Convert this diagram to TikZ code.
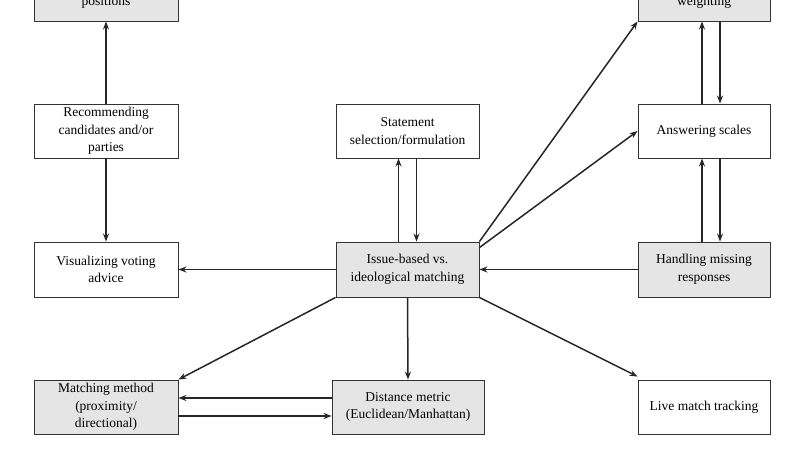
\documentclass[tikz,border=0pt]{standalone}
\usepackage{fontspec}
\setmainfont{Liberation Serif}
\usetikzlibrary{arrows.meta}
\begin{document}
\begin{tikzpicture}[x=1pt,y=-1pt,
  box/.style={draw=black!80,line width=0.9pt,align=center,inner sep=0pt,font=\fontsize{13.5}{17.5}\selectfont},
  g/.style={box,fill=black!10},
  w/.style={box,fill=white},
  arr/.style={-{Stealth[length=8pt,width=6pt]},line width=1.5pt,black!85}]
\useasboundingbox (0,0) rectangle (808,455);
\begin{scope}
\clip (0,0) rectangle (808,455);
\node[g,minimum width=144pt,minimum height=54pt] (pos) at (106,-6) {Party/candidate\\positions};
\node[g,minimum width=132pt,minimum height=54pt] (wgt) at (704,-6) {Statement\\weighting};
\end{scope}
\node[w,minimum width=144pt,minimum height=54pt] (rec) at (106,131) {Recommending\\candidates and/or\\parties};
\node[w,minimum width=144pt,minimum height=55pt] (vis) at (106,269.5) {Visualizing voting\\advice};
\node[g,minimum width=144pt,minimum height=54pt] (mm) at (106,407) {Matching method\\(proximity/\\directional)};
\node[w,minimum width=143pt,minimum height=54pt] (st) at (407.5,131) {Statement\\selection/formulation};
\node[g,minimum width=143pt,minimum height=55pt] (iss) at (407.5,269.5) {Issue-based vs.\\ideological matching};
\node[g,minimum width=152pt,minimum height=54pt] (dm) at (408,407) {Distance metric\\(Euclidean/Manhattan)};
\node[w,minimum width=132pt,minimum height=54pt] (ans) at (704,131) {Answering scales};
\node[g,minimum width=132pt,minimum height=55pt] (hm) at (704,269.5) {Handling missing\\responses};
\node[w,minimum width=132pt,minimum height=54pt] (live) at (704,407) {Live match tracking};

\draw[arr] (rec.north) -- (pos.south);
\draw[arr] (rec.south) -- (vis.north);
\draw[arr] (iss.west) -- (vis.east);
\draw[arr] ([xshift=-9pt]iss.north) -- ([xshift=-9pt]st.south);
\draw[arr] ([xshift=9pt]st.south) -- ([xshift=9pt]iss.north);
\draw[arr] (iss.south) -- (dm.north);
\draw[arr] (iss.south west) -- (mm.north east);
\draw[arr] ([yshift=9pt]dm.west) -- ([yshift=9pt]mm.east);
\draw[arr] ([yshift=-9pt]mm.east) -- ([yshift=-9pt]dm.west);
\draw[arr] (hm.west) -- (iss.east);
\draw[arr] (iss.north east) -- (wgt.south west);
\draw[arr] ([yshift=-6pt]iss.north east) -- (ans.west);
\draw[arr] (iss.south east) -- ([yshift=3pt]live.north west);
\draw[arr] ([xshift=-2pt]ans.north) -- ([xshift=-2pt]wgt.south);
\draw[arr] ([xshift=16pt]wgt.south) -- ([xshift=16pt]ans.north);
\draw[arr] ([xshift=-2pt]hm.north) -- ([xshift=-2pt]ans.south);
\draw[arr] ([xshift=16pt]ans.south) -- ([xshift=16pt]hm.north);
\end{tikzpicture}
\end{document}
